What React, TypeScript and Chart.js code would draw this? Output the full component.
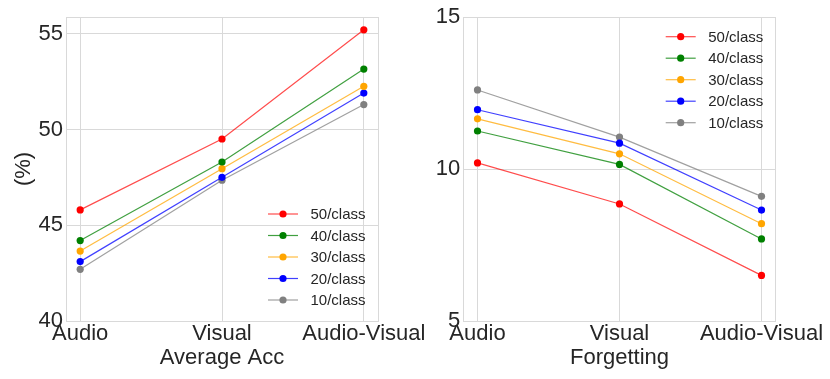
import React, { useEffect, useRef } from "react";
import { Chart, registerables } from "chart.js";

Chart.register(...registerables);

const categories = ["Audio", "Visual", "Audio-Visual"];
const seriesLabels = ["50/class", "40/class", "30/class", "20/class", "10/class"];
const seriesColors = ["#ff0000", "#008000", "#ffa500", "#0000ff", "#808080"];
const lineColors = ["rgba(255,0,0,0.7)", "rgba(0,128,0,0.75)", "rgba(255,165,0,0.75)", "rgba(0,0,255,0.75)", "rgba(128,128,128,0.75)"];

// Average Acc (%)
const acc50 = [45.8, 49.5, 55.2];
const acc40 = [44.2, 48.3, 53.15];
const acc30 = [43.65, 47.95, 52.25];
const acc20 = [43.1, 47.5, 51.9];
const acc10 = [42.7, 47.35, 51.3];
const accTicks = [40, 45, 50, 55];

// Forgetting
const fgt50 = [10.2, 8.85, 6.5];
const fgt40 = [11.25, 10.15, 7.7];
const fgt30 = [11.65, 10.5, 8.2];
const fgt20 = [11.95, 10.85, 8.65];
const fgt10 = [12.6, 11.05, 9.1];
const fgtTicks = [5, 10, 15];

const FONT = "'Liberation Sans', Arial, sans-serif";
const TEXT = "#262626";
const GRID = "#d9d9d9";

function makeDatasets(series: number[][]) {
  return series.map((vals, i) => ({
    label: seriesLabels[i],
    data: vals.map((v, j) => ({ x: j, y: v })),
    borderColor: lineColors[i],
    backgroundColor: seriesColors[i],
    pointBackgroundColor: seriesColors[i],
    pointBorderWidth: 0,
    pointRadius: 3.6,
    borderWidth: 1.2,
    fill: false,
    tension: 0,
  }));
}

const framePlugin = {
  id: "frameBox",
  beforeDatasetsDraw(chart: any) {
    const { ctx, chartArea: a } = chart;
    ctx.save();
    ctx.strokeStyle = GRID;
    ctx.lineWidth = 1;
    ctx.strokeRect(Math.round(a.left) + 0.5, Math.round(a.top) + 0.5, Math.round(a.right - a.left), Math.round(a.bottom - a.top));
    ctx.restore();
  },
};

function makeLegend(fromRight: number, anchor: "top" | "bottom", dy: number, spacing: number) {
  return {
    id: "boxLegend",
    afterDatasetsDraw(chart: any) {
      const { ctx, chartArea: a } = chart;
      const x0 = a.right - fromRight;
      const y0 = anchor === "top" ? a.top + dy : a.bottom - dy;
      ctx.save();
      chart.data.datasets.forEach((ds: any, i: number) => {
        const y = y0 + i * spacing;
        ctx.strokeStyle = ds.borderColor;
        ctx.lineWidth = 1.2;
        ctx.beginPath();
        ctx.moveTo(x0, y);
        ctx.lineTo(x0 + 30, y);
        ctx.stroke();
        ctx.fillStyle = ds.pointBackgroundColor;
        ctx.beginPath();
        ctx.arc(x0 + 15, y, 3.6, 0, Math.PI * 2);
        ctx.fill();
        ctx.fillStyle = TEXT;
        ctx.font = `15px ${FONT}`;
        ctx.textAlign = "left";
        ctx.textBaseline = "middle";
        ctx.fillText(ds.label, x0 + 42.5, y + 1);
      });
      ctx.restore();
    },
  };
}

function buildConfig(opts: {
  series: number[][];
  ticks: number[];
  yMin: number;
  yMax: number;
  xTitle: string;
  yTitle?: string;
  yWidth: number;
  padRight: number;
  legend: any;
}) {
  return {
    type: "line" as const,
    data: { datasets: makeDatasets(opts.series) },
    plugins: [framePlugin, opts.legend],
    options: {
      animation: false,
      responsive: false,
      events: [],
      layout: { padding: { top: 17, right: opts.padRight, left: 0, bottom: 0 } },
      plugins: { legend: { display: false }, tooltip: { enabled: false } },
      scales: {
        x: {
          type: "linear",
          min: -0.1,
          max: 2.1,
          afterBuildTicks: (s: any) => {
            s.ticks = categories.map((_, i) => ({ value: i }));
          },
          afterFit: (s: any) => {
            s.height = 58;
            s.paddingLeft = 0;
            s.paddingRight = 0;
          },
          ticks: {
            callback: (v: any) => categories[v] ?? "",
            font: { size: 22, family: FONT },
            color: TEXT,
            padding: 0,
            autoSkip: false,
            maxRotation: 0,
            minRotation: 0,
          },
          grid: { color: GRID, drawTicks: false, lineWidth: 1 },
          border: { display: false },
          title: {
            display: true,
            text: opts.xTitle,
            font: { size: 22, family: FONT },
            color: TEXT,
            padding: { top: 0, bottom: 8 },
          },
        },
        y: {
          type: "linear",
          min: opts.yMin,
          max: opts.yMax,
          afterBuildTicks: (s: any) => {
            s.ticks = opts.ticks.map((v) => ({ value: v }));
          },
          afterFit: (s: any) => {
            s.width = opts.yWidth;
            s.paddingTop = 0;
            s.paddingBottom = 0;
          },
          ticks: {
            font: { size: 22, family: FONT },
            color: TEXT,
            padding: 3,
          },
          grid: { color: GRID, drawTicks: false, lineWidth: 1 },
          border: { display: false },
          title: {
            display: !!opts.yTitle,
            text: opts.yTitle || "",
            font: { size: 22, family: FONT },
            color: TEXT,
            padding: { top: 11, bottom: 0 },
          },
        },
      },
    },
  };
}

function ChartCanvas({ config, left, width }: { config: any; left: number; width: number }) {
  const ref = useRef<HTMLCanvasElement | null>(null);
  useEffect(() => {
    if (!ref.current) return;
    const chart = new Chart(ref.current, config);
    return () => chart.destroy();
  }, []);
  return (
    <canvas
      ref={ref}
      width={width}
      height={379}
      style={{ position: "absolute", left, top: 0, width, height: 379 }}
    />
  );
}

export default function App() {
  const leftConfig = buildConfig({
    series: [acc50, acc40, acc30, acc20, acc10],
    ticks: accTicks,
    yMin: 40,
    yMax: 55.87,
    xTitle: "Average Acc",
    yTitle: "(%)",
    yWidth: 66,
    padRight: 72,
    legend: makeLegend(110, "bottom", 107, 21.5),
  });
  const rightConfig = buildConfig({
    series: [fgt50, fgt40, fgt30, fgt20, fgt10],
    ticks: fgtTicks,
    yMin: 5,
    yMax: 15,
    xTitle: "Forgetting",
    yWidth: 48.3,
    padRight: 54.3,
    legend: makeLegend(110, "top", 19.7, 21.5),
  });
  return (
    <div style={{ position: "absolute", left: 0, top: 0, width: 830, height: 379, background: "#ffffff" }}>
      <ChartCanvas config={leftConfig} left={0} width={450} />
      <ChartCanvas config={rightConfig} left={415} width={415} />
    </div>
  );
}
